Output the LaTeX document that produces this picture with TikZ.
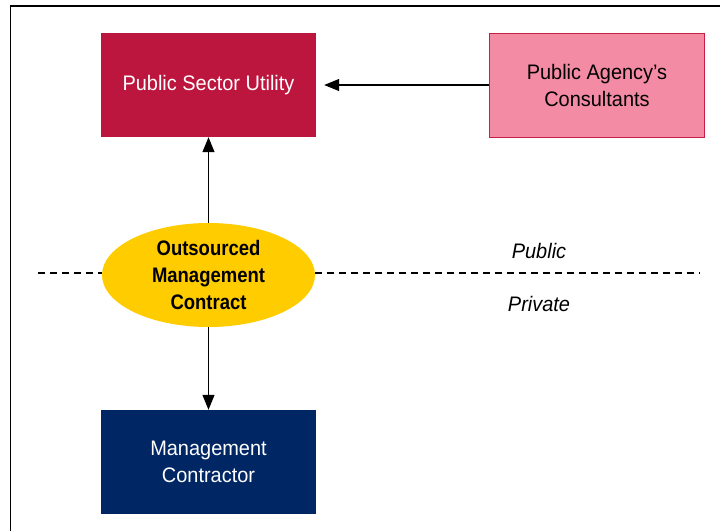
\documentclass[tikz,border=0pt]{standalone}
\usepackage{fontspec}
\setmainfont{Liberation Sans}[FakeStretch=0.95]
\newfontfamily\ovalfont{Liberation Sans}[FakeStretch=0.88]
\usetikzlibrary{shapes.geometric,arrows.meta}
\definecolor{utilred}{RGB}{188,21,62}
\definecolor{consultpink}{RGB}{244,139,164}
\definecolor{consultedge}{RGB}{200,30,70}
\definecolor{contractgold}{RGB}{255,204,0}
\definecolor{contractnavy}{RGB}{0,38,100}
\begin{document}
\begin{tikzpicture}[x=1pt,y=-1pt,
    box/.style={rectangle, minimum width=215pt, minimum height=104pt, inner sep=0pt, align=center, font=\fontsize{21}{27}\selectfont},
    link/.style={-{Triangle[length=15pt,width=12pt]}, line width=1.2pt},
    divider/.style={line width=1.2pt, dash pattern=on 7pt off 5pt},
    sidelabel/.style={inner sep=0pt, anchor=base, font=\fontsize{21}{24}\selectfont\itshape}]
    \useasboundingbox (0,0) rectangle (720,531);
    \draw[line width=1.5pt] (10.5,531) -- (10.5,6) -- (720,6);
    \node(utility) [box, fill=utilred, text=white] at (208.5,85) {Public Sector Utility};
    \node(consultants) [box, fill=consultpink, draw=consultedge, line width=1pt] at (597,85) {Public Agency's\\Consultants};
    \node(contract) [ellipse, fill=contractgold, minimum width=213pt, minimum height=104pt, inner sep=0pt, align=center, font=\fontsize{21}{27}\ovalfont\bfseries] at (208.5,275) {Outsourced\\Management\\Contract};
    \node(contractor) [box, fill=contractnavy, text=white] at (208.5,462) {Management\\Contractor};
    \coordinate (divleft) at (38,273);
    \coordinate (divright) at (700,273);
    \draw[divider] (divleft) -- (divleft -| contract.west);
    \draw[divider] (divright -| contract.east) -- (divright);
    \node(public) [sidelabel] at (539,258) {Public};
    \node(private) [sidelabel] at (539,311) {Private};
    \draw[link, shorten >=8pt] (consultants.west) -- (utility.east);
    \draw[link] (contract.north) -- (utility.south);
    \draw[link] (contract.south) -- (contractor.north);
\end{tikzpicture}
\end{document}
